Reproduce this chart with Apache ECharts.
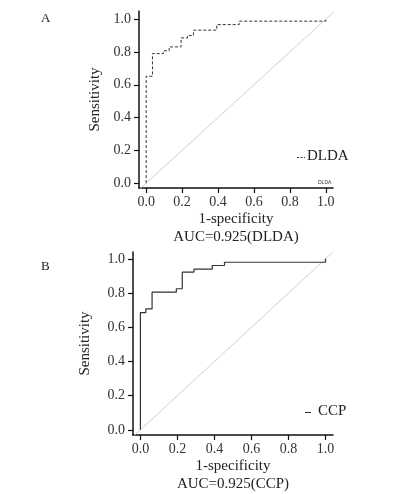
<!DOCTYPE html>
<html>
<head>
<meta charset="utf-8">
<script src="https://cdn.jsdelivr.net/npm/echarts@6/dist/echarts.min.js"></script>
<style>html,body{margin:0;padding:0;background:#fff}#c{width:395px;height:494px}</style>
</head>
<body>
<div id="c"></div>
<script>
// ---- data ----
const ticks = [0, 0.2, 0.4, 0.6, 0.8, 1.0];
const dldaFpr = [0, 0, 0.035, 0.096, 0.128, 0.194, 0.23, 0.263, 0.393, 0.518, 1.0];
const dldaTpr = [0, 0.652, 0.79, 0.807, 0.831, 0.886, 0.9, 0.933, 0.967, 0.988, 1.0];
const ccpFpr = [0, 0, 0.029, 0.063, 0.194, 0.226, 0.289, 0.388, 0.454, 1.0];
const ccpTpr = [0, 0.686, 0.708, 0.805, 0.825, 0.922, 0.94, 0.961, 0.98, 1.0];
const diagonal = [-0.05, 1.05];
const panelLabels = ['A', 'B'];
const seriesNames = ['DLDA', 'CCP'];
const xTitle = '1-specificity';
const yTitle = 'Sensitivity';
const aucA = 'AUC=0.925(DLDA)';
const aucB = 'AUC=0.925(CCP)';

const FONT = '"Liberation Serif", "Times New Roman", serif';
const pairs = (xs, ys) => xs.map((x, i) => [x, ys[i]]);

function xAx(gi, name, gap) {
  return {
    type: 'value', gridIndex: gi, min: -0.04, max: 1.04,
    name: name, nameLocation: 'middle', nameGap: gap,
    nameTextStyle: { fontFamily: FONT, fontSize: 15, color: '#222', lineHeight: 18 },
    axisLine: { show: true, onZero: false, lineStyle: { color: '#111', width: 1.5 } },
    axisTick: { show: true, length: 5, customValues: ticks, lineStyle: { color: '#111', width: 1.2 } },
    axisLabel: { customValues: ticks, margin: 7, fontFamily: FONT, fontSize: 14, color: '#333',
      formatter: v => Number(v).toFixed(1) },
    splitLine: { show: false }
  };
}
function yAx(gi, min, max, gap) {
  return {
    type: 'value', gridIndex: gi, min: min, max: max,
    name: yTitle, nameLocation: 'middle', nameGap: gap,
    nameTextStyle: { fontFamily: FONT, fontSize: 15, color: '#222' },
    axisLine: { show: true, onZero: false, lineStyle: { color: '#111', width: 1.5 } },
    axisTick: { show: true, length: 5, customValues: ticks, lineStyle: { color: '#111', width: 1.2 } },
    axisLabel: { customValues: ticks, margin: 8, fontFamily: FONT, fontSize: 14, color: '#333',
      formatter: v => Number(v).toFixed(1) },
    splitLine: { show: false }
  };
}

const chart = echarts.init(document.getElementById('c'), null, { renderer: 'canvas' });
chart.setOption({
  animation: false,
  backgroundColor: '#fff',
  title: [
    { text: panelLabels[0], left: 36, top: 7, textStyle: { fontFamily: FONT, fontSize: 13, fontWeight: 'normal', color: '#222' } },
    { text: panelLabels[1], left: 36, top: 255, textStyle: { fontFamily: FONT, fontSize: 13, fontWeight: 'normal', color: '#222' } }
  ],
  grid: [
    { left: 139, top: 11, width: 194, height: 177 },
    { left: 133, top: 252, width: 200, height: 183 }
  ],
  xAxis: [xAx(0, xTitle + '\n' + aucA, 15), xAx(1, xTitle + '\n' + aucB, 16)],
  yAxis: [yAx(0, -0.03, 1.05, 36), yAx(1, -0.03, 1.04, 40)],
  graphic: [
    { type: 'line', shape: { x1: 297, y1: 157.5, x2: 305, y2: 157.5 }, style: { stroke: '#333', lineWidth: 1, lineDash: [2, 1.5] } },
    { type: 'text', left: 307, top: 149, style: { text: seriesNames[0], fontFamily: FONT, fontSize: 15, fill: '#222' } },
    { type: 'line', shape: { x1: 305, y1: 412.5, x2: 311, y2: 412.5 }, style: { stroke: '#333', lineWidth: 1 } },
    { type: 'text', left: 318, top: 404, style: { text: seriesNames[1], fontFamily: FONT, fontSize: 15, fill: '#222' } },
    { type: 'text', left: 318, top: 180, style: { text: seriesNames[0], fontFamily: 'Liberation Sans, sans-serif', fontSize: 5, fill: '#333' } }
  ],
  series: [
    { type: 'line', xAxisIndex: 0, yAxisIndex: 0, data: pairs(diagonal, diagonal), symbol: 'none', silent: true,
      lineStyle: { color: '#d0d0d0', width: 1 }, clip: true },
    { name: seriesNames[0], type: 'line', xAxisIndex: 0, yAxisIndex: 0, data: pairs(dldaFpr, dldaTpr), step: 'end', symbol: 'none',
      lineStyle: { color: '#333', width: 1, type: [3, 2] }, itemStyle: { color: '#333' } },
    { type: 'line', xAxisIndex: 1, yAxisIndex: 1, data: pairs(diagonal, diagonal), symbol: 'none', silent: true,
      lineStyle: { color: '#d0d0d0', width: 1 }, clip: true },
    { name: seriesNames[1], type: 'line', xAxisIndex: 1, yAxisIndex: 1, data: pairs(ccpFpr, ccpTpr), step: 'end', symbol: 'none',
      lineStyle: { color: '#333', width: 1.2 }, itemStyle: { color: '#333' } }
  ]
});
</script>
</body>
</html>
